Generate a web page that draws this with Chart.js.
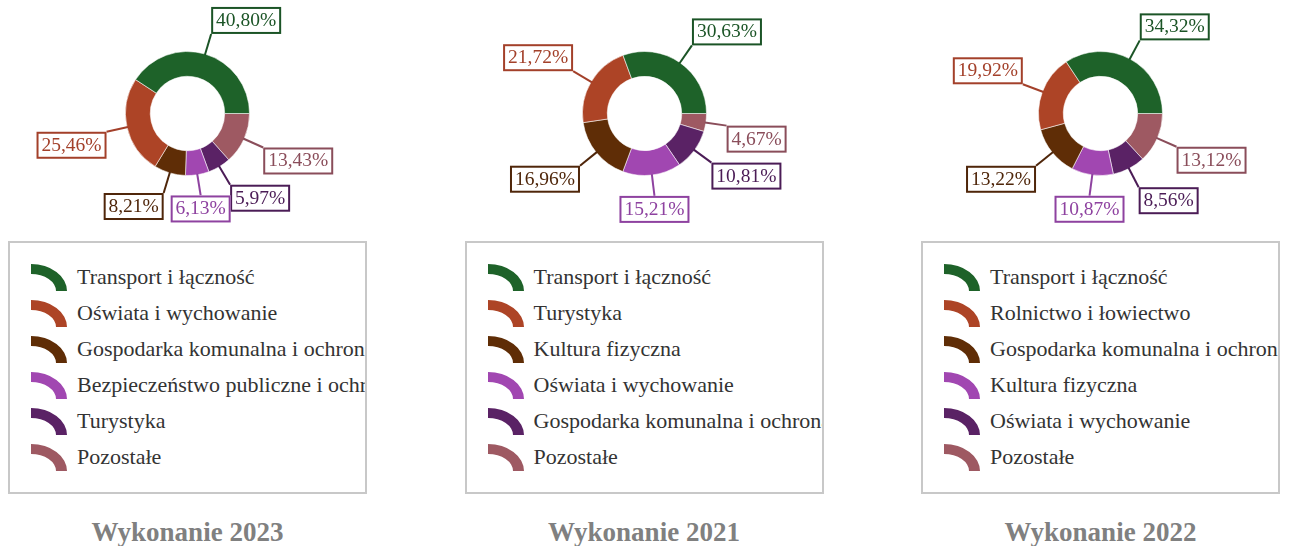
<!DOCTYPE html>
<html>
<head>
<meta charset="utf-8">
<script src="https://cdn.jsdelivr.net/npm/chart.js"></script>
<style>
    body { margin: 0; background: #fff; font-family: "Liberation Serif", "Times New Roman", serif; }
    .panel { position: absolute; top: 0; width: 359px; height: 546px; }
    .panel canvas.pie { position: absolute; left: 0; top: 0; }
    .legend { position: absolute; left: 0; top: 241px; width: 355px; height: 249px; border: 2px solid #c8c8c8; overflow: hidden; }
    .item { position: absolute; left: 0; width: 2000px; height: 36px; line-height: 36px; white-space: nowrap; font-size: 22px; color: #333; }
    .item canvas { position: absolute; left: 21px; top: 5px; }
    .item span { position: absolute; left: 67px; top: 0; }
    .title { position: absolute; left: 0; top: 517px; width: 100%; line-height: 30px; text-align: center; font-weight: bold; font-size: 27px; color: #808080; }
</style>
</head>
<body>
<div id="charts"></div>
<script>
const years = ['2023', '2021', '2022'];

const categories2023 = ['Transport i łączność', 'Oświata i wychowanie', 'Gospodarka komunalna i ochrona środowiska', 'Bezpieczeństwo publiczne i ochrona przeciwpożarowa', 'Turystyka', 'Pozostałe'];
const shares2023 = [40.80, 25.46, 8.21, 6.13, 5.97, 13.43];

const categories2021 = ['Transport i łączność', 'Turystyka', 'Kultura fizyczna', 'Oświata i wychowanie', 'Gospodarka komunalna i ochrona środowiska', 'Pozostałe'];
const shares2021 = [30.63, 21.72, 16.96, 15.21, 10.81, 4.67];

const categories2022 = ['Transport i łączność', 'Rolnictwo i łowiectwo', 'Gospodarka komunalna i ochrona środowiska', 'Kultura fizyczna', 'Oświata i wychowanie', 'Pozostałe'];
const shares2022 = [34.32, 19.92, 13.22, 10.87, 8.56, 13.12];

const sliceColors = ['#1e6229', '#ad4426', '#5f2d06', '#a147b1', '#5a2265', '#9e5962'];
const labelColors = ['#1b5426', '#a3402a', '#4f260a', '#8e42a0', '#4b1c56', '#8a4d5a'];

const panels = [
    { year: years[0], categories: categories2023, shares: shares2023 },
    { year: years[1], categories: categories2021, shares: shares2021 },
    { year: years[2], categories: categories2022, shares: shares2022 },
];

// boxed percentage labels with leader lines
const calloutPlugin = {
    id: 'callouts',
    afterDatasetsDraw(chart) {
        const ctx = chart.ctx;
        const ds = chart.data.datasets[0];
        const meta = chart.getDatasetMeta(0);
        ctx.save();
        ctx.font = '19.5px "Liberation Serif", "Times New Roman", serif';
        meta.data.forEach((arc, j) => {
            const p = arc.getProps(['x', 'y', 'startAngle', 'endAngle', 'outerRadius']);
            const mid = (p.startAngle + p.endAngle) / 2;
            const cos = Math.cos(mid);
            const sin = Math.sin(mid);
            const x0 = p.x + cos * (p.outerRadius - 1);
            const y0 = p.y + sin * (p.outerRadius - 1);
            const x1 = p.x + cos * (p.outerRadius + 21);
            const y1 = p.y + sin * (p.outerRadius + 21);
            const text = ds.data[j].toFixed(2).replace('.', ',') + '%';
            const w = Math.round(ctx.measureText(text).width) + 10;
            const h = 27;
            const bx = cos > 0.2 ? x1 : (cos < -0.2 ? x1 - w : x1 - w / 2);
            const by = sin < 0 ? y1 - h : y1;
            const color = ds.calloutColors[j];

            ctx.strokeStyle = color;
            ctx.lineWidth = 2;
            ctx.beginPath();
            ctx.moveTo(x0, y0);
            ctx.lineTo(x1, y1);
            ctx.stroke();

            ctx.fillStyle = '#fff';
            ctx.fillRect(bx, by, w, h);
            ctx.strokeRect(bx + 1, by + 1, w - 2, h - 2);

            ctx.fillStyle = color;
            ctx.textAlign = 'center';
            ctx.textBaseline = 'alphabetic';
            ctx.fillText(text, bx + w / 2, by + 19);
        });
        ctx.restore();
    }
};

function drawLegendIcon(canvas, color) {
    const c = canvas.getContext('2d');
    c.fillStyle = color;
    c.beginPath();
    c.ellipse(0, 27, 36, 27, 0, -Math.PI / 2, 0);
    c.ellipse(0, 27, 25, 17, 0, 0, -Math.PI / 2, true);
    c.closePath();
    c.fill();
}

const container = document.getElementById('charts');

panels.forEach((panel, i) => {
    const div = document.createElement('div');
    div.className = 'panel';
    div.style.left = (8 + i * 456.5) + 'px';

    const canvas = document.createElement('canvas');
    canvas.className = 'pie';
    canvas.width = 359;
    canvas.height = 240;
    div.appendChild(canvas);

    const legend = document.createElement('div');
    legend.className = 'legend';
    panel.categories.forEach((name, k) => {
        const item = document.createElement('div');
        item.className = 'item';
        item.style.top = (16 + k * 36) + 'px';
        const icon = document.createElement('canvas');
        icon.width = 36;
        icon.height = 28;
        drawLegendIcon(icon, sliceColors[k]);
        const label = document.createElement('span');
        label.textContent = name;
        item.appendChild(icon);
        item.appendChild(label);
        legend.appendChild(item);
    });
    div.appendChild(legend);

    const title = document.createElement('div');
    title.className = 'title';
    title.textContent = 'Wykonanie ' + panel.year;
    div.appendChild(title);

    container.appendChild(div);

    // reversed so the slices run counter-clockwise from 3 o'clock
    const n = panel.shares.length;
    new Chart(canvas, {
        type: 'doughnut',
        data: {
            labels: panel.categories.slice().reverse(),
            datasets: [{
                data: panel.shares.slice().reverse(),
                backgroundColor: sliceColors.slice(0, n).reverse(),
                calloutColors: labelColors.slice(0, n).reverse(),
                borderColor: 'rgba(255, 255, 255, 0.55)',
                borderWidth: 1,
            }]
        },
        options: {
            responsive: false,
            animation: false,
            rotation: 90,
            cutout: '60%',
            layout: { padding: { top: 51, bottom: 64, left: 0, right: 0 } },
            plugins: {
                legend: { display: false },
                tooltip: { enabled: false },
            },
        },
        plugins: [calloutPlugin],
    });
});
</script>
</body>
</html>
